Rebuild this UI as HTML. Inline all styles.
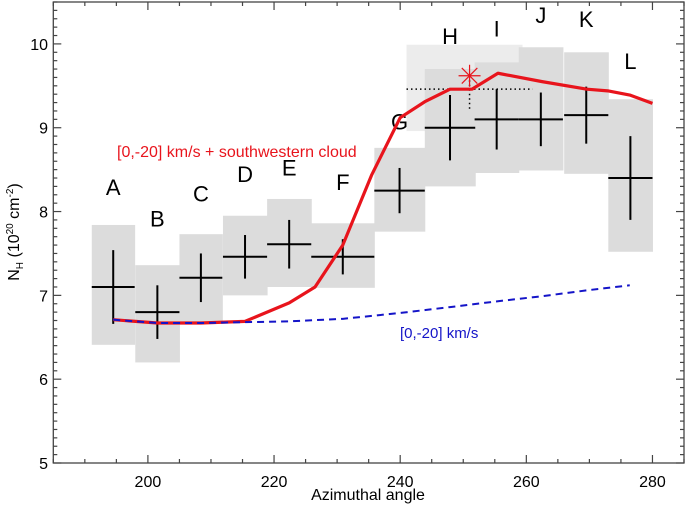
<!DOCTYPE html>
<html><head><meta charset="utf-8"><style>
html,body{margin:0;padding:0;background:#fff;}
svg{display:block;font-family:"Liberation Sans",Arial,sans-serif;}
</style></head><body>
<svg id="chart" width="686" height="506" viewBox="0 0 686 506"></svg>
<script>
const labels=["A","B","C","D","E","F","G","H","I","J","K","L"];
const xVals=[194.5,201.5,208.4,215.4,222.4,230.9,239.9,247.9,255.3,262.3,269.5,276.5];
const xErr=[3.4,3.5,3.4,3.5,3.5,5.0,4.0,4.0,3.5,3.5,3.5,3.5];
const yVals=[7.10,6.80,7.21,7.46,7.61,7.46,8.25,9.00,9.10,9.10,9.15,8.40];
const yErr=[0.44,0.32,0.29,0.26,0.29,0.21,0.27,0.39,0.36,0.32,0.34,0.50];
const shadeTop=[7.84,7.36,7.73,7.95,8.15,7.86,8.76,9.70,9.78,9.96,9.90,9.34];
const shadeBot=[6.41,6.20,6.68,7.00,7.10,7.09,7.76,8.30,8.46,8.49,8.45,7.52];
const labelY=[8.2,7.82,8.12,8.35,8.43,8.26,8.98,10.0,10.09,10.25,10.2,9.7];
const redX=[194.5,201.5,208.4,215.4,222.4,226.5,230.9,235.5,240.0,243.9,247.9,251.4,255.5,262.5,269.6,272.9,276.4,280.0];
const redY=[6.71,6.67,6.67,6.69,6.91,7.10,7.60,8.44,9.12,9.31,9.46,9.46,9.65,9.55,9.46,9.44,9.39,9.29];
const blueX=[194.5,201.5,208.4,215.4,222.4,230.9,240.0,247.9,255.5,262.5,269.6,276.4];
const blueY=[6.71,6.67,6.67,6.68,6.69,6.72,6.79,6.86,6.93,6.99,7.06,7.12];
const xTicks=[200,220,240,260,280];
const yTicks=[5,6,7,8,9,10];
const star=[251.0,9.62];

const X0=185,X1=285,Y0=5,Y1=10.5;
const L=53.3,R=684,T=2,B=463;
const sx=v=>L+(v-X0)/(X1-X0)*(R-L);
const sy=v=>B-(v-Y0)/(Y1-Y0)*(B-T);
const svg=document.getElementById('chart');
const NS='http://www.w3.org/2000/svg';
function mk(tag,attrs,parent){const e=document.createElementNS(NS,tag);for(const k in attrs)e.setAttribute(k,attrs[k]);(parent||svg).appendChild(e);return e;}

let lb=mk('rect',{x:sx(241.0),y:sy(9.99),width:sx(259.4)-sx(241.0),height:sy(8.96)-sy(9.99),fill:'#ececec'});


for(let i=0;i<labels.length;i++){
  const r=mk('rect',{x:sx(xVals[i]-xErr[i]),y:sy(shadeTop[i]),width:sx(xVals[i]+xErr[i])-sx(xVals[i]-xErr[i])+0.5,height:sy(shadeBot[i])-sy(shadeTop[i]),fill:'#dcdcdc'});
  
  
}
let d1=mk('line',{x1:sx(241.0),x2:sx(261.0),y1:sy(9.46),y2:sy(9.46),stroke:'#000','stroke-width':1.5,'stroke-dasharray':'1.5 3'});


let d2=mk('line',{x1:sx(star[0]),x2:sx(star[0]),y1:sy(star[1]),y2:sy(9.22),stroke:'#000','stroke-width':1.5,'stroke-dasharray':'1.5 3'});


for(let i=0;i<labels.length;i++){
  const g=mk('g',{stroke:'#000','stroke-width':2});
  
  
  mk('line',{x1:sx(xVals[i]-xErr[i]),x2:sx(xVals[i]+xErr[i]),y1:sy(yVals[i]),y2:sy(yVals[i])},g);
  mk('line',{x1:sx(xVals[i]),x2:sx(xVals[i]),y1:sy(yVals[i]+yErr[i]),y2:sy(yVals[i]-yErr[i])},g);
  const t=mk('text',{x:sx(xVals[i]),y:sy(labelY[i]),'font-size':22,'text-anchor':'middle',fill:'#000'});
  t.textContent=labels[i];
  
  
}
let rp=mk('polyline',{points:redX.map((v,i)=>sx(v)+','+sy(redY[i])).join(' '),fill:'none',stroke:'#e8141c','stroke-width':3.2,'stroke-linejoin':'round'});


let bp=mk('polyline',{points:blueX.map((v,i)=>sx(v)+','+sy(blueY[i])).join(' '),fill:'none',stroke:'#1414c8','stroke-width':2,'stroke-dasharray':'7 5'});


const sg=mk('g',{stroke:'#e8141c','stroke-width':1.2});


for(let a=0;a<4;a++){const ang=a*Math.PI/4,r=11;mk('line',{x1:sx(star[0])-r*Math.cos(ang),y1:sy(star[1])-r*Math.sin(ang),x2:sx(star[0])+r*Math.cos(ang),y2:sy(star[1])+r*Math.sin(ang)},sg);}
let rt=mk('text',{x:117,y:157,'font-size':16,fill:'#e8141c'});rt.textContent='[0,-20] km/s + southwestern cloud';


let bt=mk('text',{x:400,y:338,'font-size':15,fill:'#1414c8'});bt.textContent='[0,-20] km/s';


let fr=mk('rect',{x:L,y:T,width:R-L,height:B-T,fill:'none',stroke:'#444','stroke-width':1.3});


const tg=mk('g',{stroke:'#444','stroke-width':1.2});


for(let v=X0;v<=X1;v+=5){const maj=v%20===0,len=maj?8:4;
  mk('line',{x1:sx(v),x2:sx(v),y1:B,y2:B-len},tg);mk('line',{x1:sx(v),x2:sx(v),y1:T,y2:T+len},tg);}
for(let k=0;k<=55;k++){const v=Y0+k*0.1,maj=k%10===0,len=maj?8:4;
  mk('line',{x1:L,x2:L+len,y1:sy(v),y2:sy(v)},tg);mk('line',{x1:R,x2:R-len,y1:sy(v),y2:sy(v)},tg);}
xTicks.forEach(v=>{const t=mk('text',{x:sx(v),y:487,'font-size':16,'text-anchor':'middle',fill:'#000'});t.textContent=v;
  
  });
yTicks.forEach(v=>{const t=mk('text',{x:48,y:sy(v)+6,'font-size':16,'text-anchor':'end',fill:'#000'});t.textContent=v;
  
  });
</script>
<svg style="position:absolute;left:0;top:0" width="686" height="506">
<text x="368" y="500" font-size="16" text-anchor="middle" font-family="Liberation Sans, sans-serif">Azimuthal angle</text>
<text transform="translate(19,232) rotate(-90)" font-size="16" text-anchor="middle" font-family="Liberation Sans, sans-serif">N<tspan font-size="10" dy="4">H</tspan><tspan dy="-4"> (10</tspan><tspan font-size="10" dy="-6">20</tspan><tspan dy="6"> cm</tspan><tspan font-size="10" dy="-6">-2</tspan><tspan dy="6">)</tspan></text>
</svg>
</body></html>
